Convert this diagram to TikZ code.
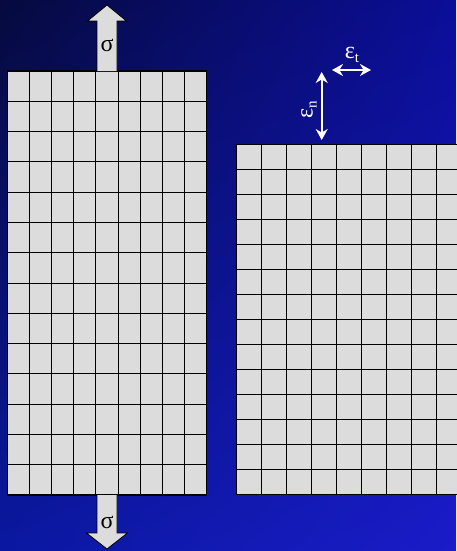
\documentclass[tikz,border=0pt]{standalone}
\usepackage{fontspec}
\setmainfont{Liberation Serif}
\usetikzlibrary{arrows.meta,shadings}
\definecolor{cellgray}{HTML}{DCDCDC}
\definecolor{bgA}{HTML}{060A3E}
\definecolor{bgB}{HTML}{0B0E98}
\definecolor{bgC}{HTML}{0A18A0}
\definecolor{bgD}{HTML}{1A1CC8}
\tikzset{
  cell/.style={draw=black, line width=0.9pt},
  border/.style={draw=black, line width=1.3pt},
  loadarrow/.style={fill=cellgray, draw=black, line width=0.8pt, line join=miter},
  strainarrow/.style={draw=white, line width=2.2pt, {Stealth[length=11pt,width=12pt]}-{Stealth[length=11pt,width=12pt]}},
  sig/.style={font=\fontsize{24}{26}\selectfont, text=black, inner sep=0pt},
  eps/.style={font=\fontsize{24}{26}\selectfont, text=white, inner sep=0pt}
}
\begin{document}
\begin{tikzpicture}[x=1pt,y=-1pt]
\useasboundingbox (0,0) rectangle (456,551);
\shade[upper left=bgA, upper right=bgB, lower left=bgC, lower right=bgD] (0,0) rectangle (456,551);
% left grid
\fill[cellgray] (7.3,71) rectangle (206.7,495);
\foreach \i in {1,...,8} \draw[cell] ({7.3+22.16*\i},71) -- ({7.3+22.16*\i},495);
\foreach \j in {1,...,13} \draw[cell] (7.3,{71+30.29*\j}) -- (206.7,{71+30.29*\j});
\draw[border] (7.3,71) rectangle (206.7,495);
% right grid
\fill[cellgray] (236.7,144.7) rectangle (470,494.7);
\foreach \i in {1,...,8} \draw[cell] ({236.7+25*\i},144.7) -- ({236.7+25*\i},494.7);
\foreach \j in {1,...,13} \draw[cell] (236.7,{144.7+25*\j}) -- (470,{144.7+25*\j});
\draw[border] (470,144.7) -- (236.7,144.7) -- (236.7,494.7) -- (470,494.7);
% load arrows
\draw[loadarrow] (97,71) -- (97,21) -- (87.5,21) -- (107,5) -- (126.5,21) -- (117,21) -- (117,71);
\node[sig] (st) at (107,45) {σ};
\draw[loadarrow] (97,495) -- (97,533) -- (86.5,533) -- (107,549) -- (127.5,533) -- (117,533) -- (117,495);
\node[sig] (sb) at (107,522) {σ};
% strain arrows
\coordinate (vn1) at (321.7,72);
\coordinate (vn2) at (321.7,140);
\draw[strainarrow] (vn1) -- (vn2);
\coordinate (ht1) at (332,70);
\coordinate (ht2) at (371,70);
\draw[strainarrow] (ht1) -- (ht2);
\node[eps] (et) at (352,55) {ε\raisebox{-0.35ex}{\fontsize{15}{16}\selectfont t}};
\node[eps, rotate=90] (en) at (309,110) {ε\raisebox{-0.35ex}{\fontsize{15}{16}\selectfont n}};
\end{tikzpicture}
\end{document}
